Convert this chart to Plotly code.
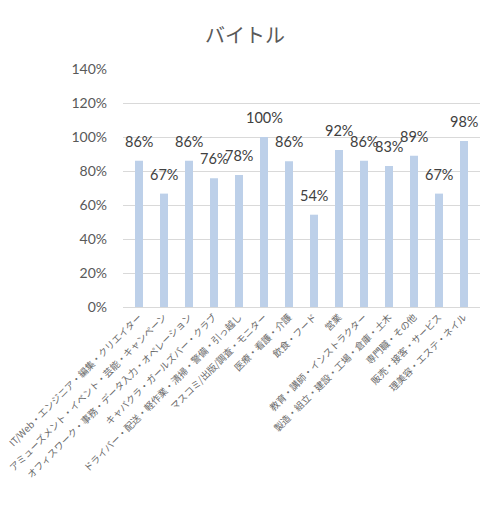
import plotly.graph_objects as go

categories = [
    "IT/Web・エンジニア・編集・クリエイター",
    "アミューズメント・イベント・芸能・キャンペーン",
    "オフィスワーク・事務・データ入力・オペレーション",
    "キャバクラ・ガールズバー・クラブ",
    "ドライバー・配送・軽作業・清掃・警備・引っ越し",
    "マスコミ/出版/調査・モニター",
    "医療・看護・介護",
    "飲食・フード",
    "営業",
    "教育・講師・インストラクター",
    "製造・組立・建設・工場・倉庫・土木",
    "専門職・その他",
    "販売・接客・サービス",
    "理美容・エステ・ネイル",
]
values = [0.861, 0.667, 0.861, 0.757, 0.777, 1.0, 0.857, 0.543, 0.923, 0.861, 0.83, 0.89, 0.667, 0.976]
y_ticks = [0, 0.2, 0.4, 0.6, 0.8, 1.0, 1.2, 1.4]

fig = go.Figure(go.Bar(
    x=categories, y=values,
    marker=dict(color="#BDD0E9", line=dict(width=0)),
))

for c, v in zip(categories, values):
    fig.add_annotation(x=c, y=v, text=f"{v:.0%}", showarrow=False,
                       yanchor="bottom", yshift=9,
                       font=dict(size=14.5, color="#404040", family="Lato, Noto Sans CJK JP"))

fig.update_layout(
    width=485, height=510,
    margin=dict(l=123, r=5, t=69, b=203),
    paper_bgcolor="white", plot_bgcolor="white",
    title=dict(text="バイトル", x=0.505, xanchor="center", y=0.93, yanchor="middle",
               font=dict(size=20, color="#595959", family="Noto Sans CJK JP")),
    bargap=0.68,
    showlegend=False,
    xaxis=dict(tickangle=-45, automargin=False, showgrid=False,
               tickfont=dict(size=9.5, color="#6a6a6a", family="Noto Sans CJK JP"),
               showline=True, linecolor="#D9D9D9", ticks=""),
    yaxis=dict(range=[0, 1.4], tickvals=y_ticks, tickformat=".0%", automargin=False,
               showgrid=True, gridcolor="#D9D9D9", zeroline=False,
               tickfont=dict(size=14, color="#595959", family="Lato, Noto Sans CJK JP"),
               ticklabelstandoff=15),
)

fig.write_html("out.html", config={"displayModeBar": False},
               post_script="document.body.style.margin='0';document.body.style.padding='0';")
